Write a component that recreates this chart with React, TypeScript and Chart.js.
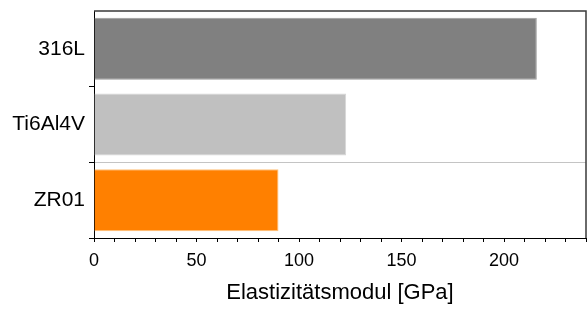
import React, { useEffect, useRef } from "react";
import { Chart, registerables } from "chart.js";

Chart.register(...registerables);

const categories = ["316L", "Ti6Al4V", "ZR01"];
const modulusValues = [216, 123, 90];
const barColors = ["#808080", "#c0c0c0", "#ff8000"];
const barBorders = ["#9a9a9a", "#d6d6d6", "#ffc27a"];
const axisTitle = "Elastizitätsmodul [GPa]";
const xMin = 0;
const xMax = 240;
const majorStep = 50;
const minorStep = 10;

const FONT = "'Liberation Sans', Arial, sans-serif";

const framePlugin = {
  id: "frame",
  afterDraw(chart: any) {
    const { ctx, chartArea } = chart;
    ctx.save();
    ctx.strokeStyle = "#3a3a3a";
    ctx.lineWidth = 1.5;
    ctx.beginPath();
    ctx.moveTo(chartArea.left, chartArea.top);
    ctx.lineTo(chartArea.right, chartArea.top);
    ctx.lineTo(chartArea.right, chartArea.bottom);
    ctx.stroke();
    ctx.restore();
  },
};

export default function App() {
  const ref = useRef<HTMLCanvasElement>(null);
  useEffect(() => {
    document.body.style.margin = "0";
    const chart = new Chart(ref.current!, {
      type: "bar",
      data: {
        labels: categories,
        datasets: [
          {
            data: modulusValues,
            backgroundColor: barColors,
            borderColor: barBorders,
            borderWidth: 1,
            categoryPercentage: 1,
            barPercentage: 0.82,
          },
        ],
      },
      options: {
        indexAxis: "y",
        animation: false,
        responsive: false,
        maintainAspectRatio: false,
        layout: { padding: { top: 11, right: 1, left: 0, bottom: 0 } },
        plugins: { legend: { display: false }, tooltip: { enabled: false } },
        scales: {
          x: {
            min: xMin,
            max: xMax,
            afterFit: (s: any) => {
              s.height = 71;
              s.paddingLeft = 0;
              s.paddingRight = 0;
            },
            border: { color: "#000", width: 1 },
            grid: {
              drawOnChartArea: false,
              tickLength: 4,
              tickColor: "#000",
            },
            ticks: {
              stepSize: minorStep,
              autoSkip: false,
              maxRotation: 0,
              padding: 8,
              color: "#000",
              font: { family: FONT, size: 18 },
              callback: (v: any) => (Number(v) % majorStep === 0 && Number(v) < xMax ? String(v) : ""),
            },
            title: {
              display: true,
              text: axisTitle,
              color: "#000",
              font: { family: FONT, size: 22 },
              padding: { top: 0, bottom: 3 },
            },
          },
          y: {
            afterFit: (s: any) => {
              s.width = 94;
              s.paddingTop = 0;
              s.paddingBottom = 0;
            },
            border: { color: "#000", width: 1 },
            grid: {
              offset: true,
              color: (c: any) => (c.index === 2 ? "#c4c4c4" : "rgba(0,0,0,0)"),
              borderDash: [2, 3],
              tickBorderDash: [],
              tickColor: (c: any) => (c.index === 0 ? "rgba(0,0,0,0)" : "#000"),
              tickLength: 5,
            },
            ticks: {
              padding: 4,
              color: "#000",
              font: { family: FONT, size: 21 },
            },
          },
        },
      },
      plugins: [framePlugin],
    });
    return () => chart.destroy();
  }, []);
  return (
    <div style={{ position: "absolute", left: 0, top: 0, width: 587, height: 309, background: "#fff" }}>
      <canvas ref={ref} width={587} height={309} />
    </div>
  );
}
